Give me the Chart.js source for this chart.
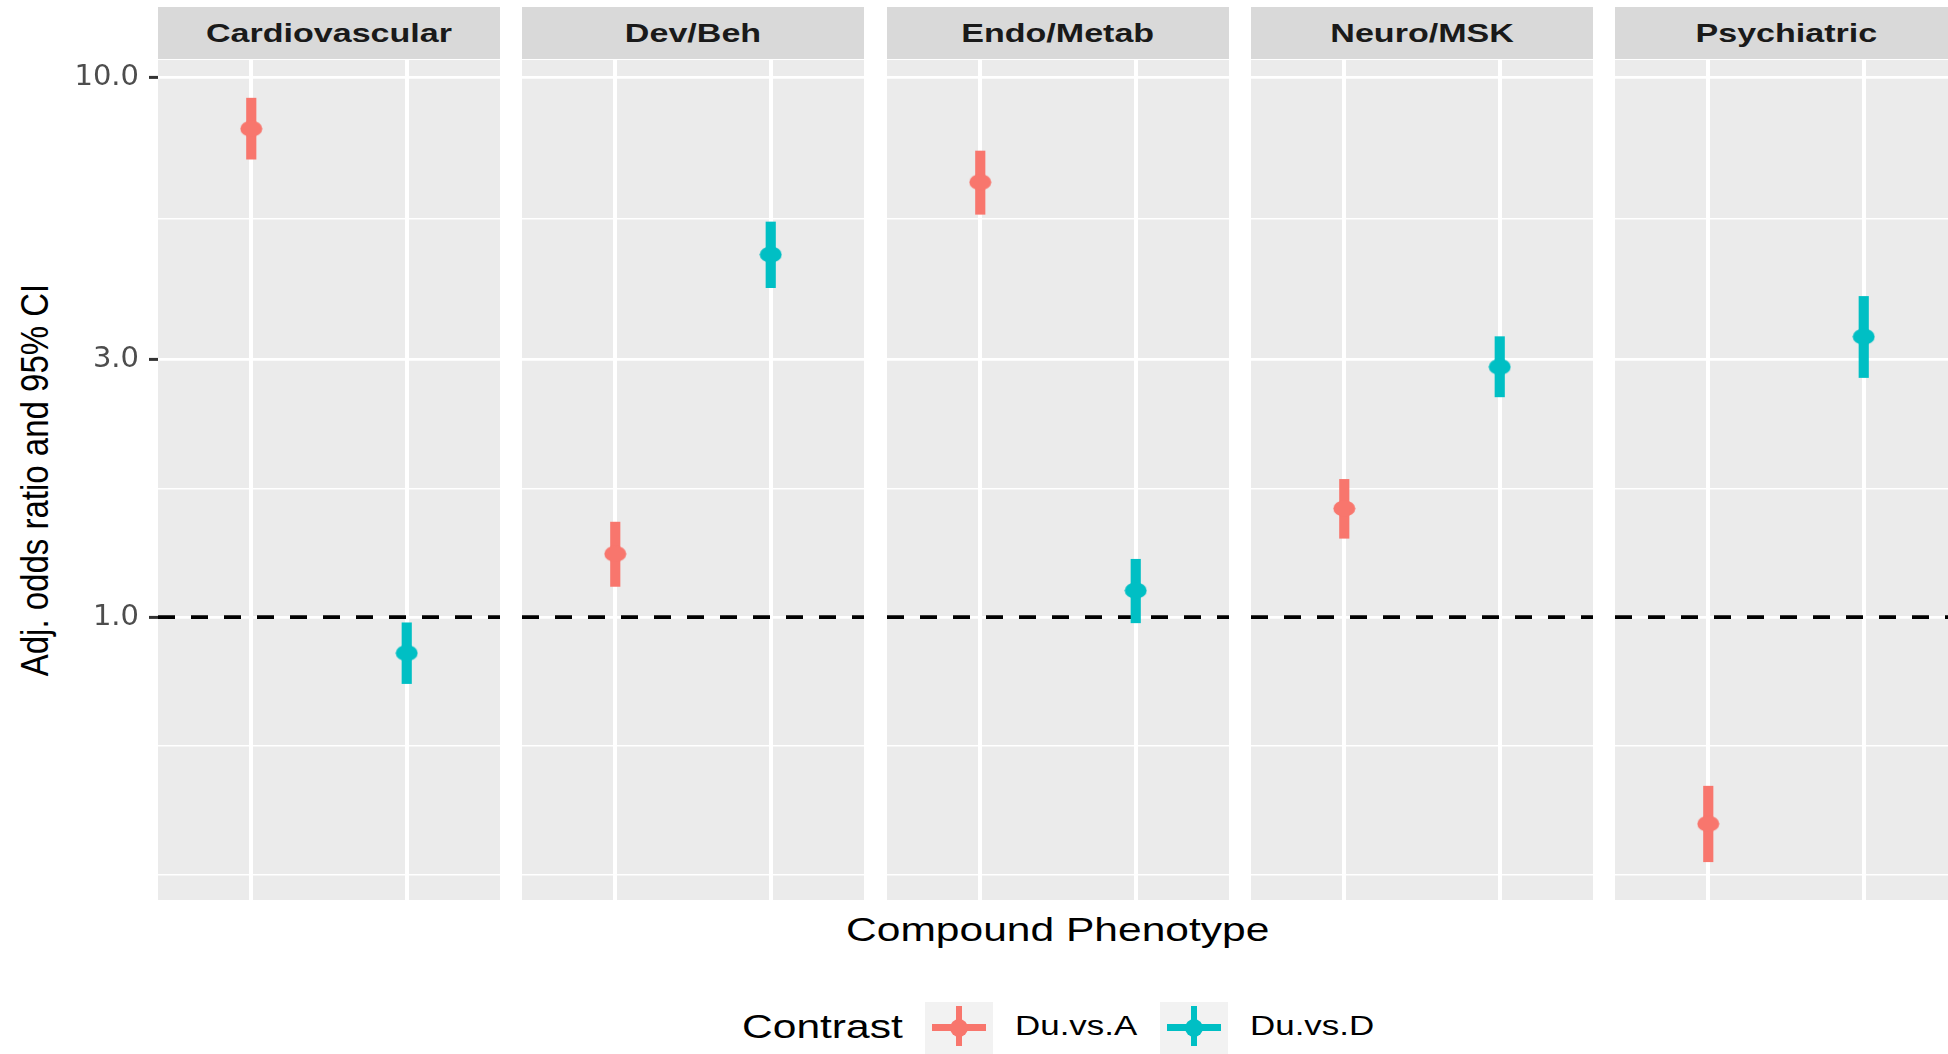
<!DOCTYPE html>
<html>
<head>
<meta charset="utf-8">
<title>Adjusted odds ratios by compound phenotype</title>
<script src="https://cdn.jsdelivr.net/npm/chart.js@4.4.0/dist/chart.umd.min.js"></script>
<style>
  html, body { margin: 0; padding: 0; background: #ffffff; width: 1948px; height: 1054px; overflow: hidden; }
  body { position: relative; font-family: "Liberation Sans", Arial, sans-serif; }
  .panel { position: absolute; top: 60px; height: 840px; }
  .strip { position: absolute; top: 7px; height: 52px; line-height: 52px; background: #D9D9D9;
           text-align: center; font-weight: bold; font-size: 26px; color: #1A1A1A; white-space: nowrap; overflow: hidden; }
  .strip span { display: inline-block; transform: scaleX(1.31); }
  .ytitle { position: absolute; left: -265px; top: 460px; width: 600px; height: 40px; line-height: 40px;
            text-align: center; font-size: 33px; color: #000; white-space: nowrap;
            transform: rotate(-90deg) scaleY(1.2); }
  .xtitle { position: absolute; left: 658px; top: 905px; width: 800px; height: 50px; line-height: 50px;
            text-align: center; font-size: 33.5px; color: #000; white-space: nowrap; }
  .xtitle span { display: inline-block; transform: scaleX(1.27); }
  .lgtext { position: absolute; height: 50px; line-height: 50px; white-space: nowrap; color: #000;
            transform-origin: left center; transform: scaleX(1.27); }
  .key { position: absolute; top: 1002px; width: 68px; height: 52px; background: #F2F2F2; }
  .key .h { position: absolute; left: 7px; top: 22px; width: 54px; height: 7px; }
  .key .v { position: absolute; left: 31px; top: 4px; width: 6px; height: 40px; }
  .key .d { position: absolute; left: 25px; top: 17px; width: 18px; height: 18px; border-radius: 50%; }
</style>
</head>
<body>
<div class="ytitle">Adj. odds ratio and 95% CI</div>
<div class="xtitle"><span>Compound Phenotype</span></div>

<script>
// facets and contrasts
var phenotypes = ["Cardiovascular", "Dev/Beh", "Endo/Metab", "Neuro/MSK", "Psychiatric"];
var contrasts = ["Du.vs.A", "Du.vs.D"];
var contrastColors = ["#F8766D", "#00BFC4"];

// adjusted odds ratio and 95% CI per phenotype, Du.vs.A
var orA   = [8.04, 1.31, 6.40, 1.59, 0.414];
var lowA  = [7.06, 1.14, 5.58, 1.40, 0.352];
var highA = [9.16, 1.50, 7.31, 1.80, 0.486];

// same for Du.vs.D
var orD   = [0.858, 4.70, 1.12, 2.91, 3.31];
var lowD  = [0.753, 4.08, 0.976, 2.56, 2.78];
var highD = [0.976, 5.40, 1.28, 3.31, 3.93];

// log y axis breaks
var majorBreaks = [1, 3, 10];
var minorBreaks = [0.333, 0.577, 1.73, 5.48];
var yMin = 0.299;
var yMax = 10.78;
var refLine = 1;

var allBreaks = majorBreaks.concat(minorBreaks).sort(function(a, b) { return a - b; });

//panel layout (pixels)
var panelLeft = [158, 522, 887, 1251, 1615];
var panelWidth = 342;
var yAxisWidth = 158;

function isMajor(ctx) {
	return ctx.tick && majorBreaks.indexOf(ctx.tick.value) >= 0;
}

//ellipse used as the point marker
function makeDot(color) {
	var c = document.createElement("canvas");
	c.width = 23;
	c.height = 17;
	var g = c.getContext("2d");
	g.fillStyle = color;
	g.beginPath();
	g.ellipse(11.5, 8.5, 11, 8, 0, 0, Math.PI * 2);
	g.fill();
	return c;
}

var panelBackground = {
	id: "panelBackground",
	beforeDraw: function(chart) {
		var a = chart.chartArea;
		var ctx = chart.ctx;
		ctx.save();
		ctx.fillStyle = "#EBEBEB";
		ctx.fillRect(a.left, a.top, a.right - a.left, a.bottom - a.top);
		ctx.restore();
	}
};

function makePanel(i) {
	var first = (i === 0);

	//strip label on top of the panel
	var strip = document.createElement("div");
	strip.className = "strip";
	strip.style.left = panelLeft[i] + "px";
	strip.style.width = panelWidth + "px";
	strip.innerHTML = "<span></span>";
	strip.firstChild.textContent = phenotypes[i];
	document.body.appendChild(strip);

	var box = document.createElement("div");
	box.className = "panel";
	var left = first ? 0 : panelLeft[i];
	var width = first ? panelLeft[0] + panelWidth : panelWidth;
	box.style.left = left + "px";
	box.style.width = width + "px";
	var canvas = document.createElement("canvas");
	box.appendChild(canvas);
	document.body.appendChild(box);

	var series = [
		{ label: contrasts[0], x: 1, or: orA[i], low: lowA[i], high: highA[i], color: contrastColors[0] },
		{ label: contrasts[1], x: 2, or: orD[i], low: lowD[i], high: highD[i], color: contrastColors[1] }
	];

	var datasets = [];
	series.forEach(function(s) {
		datasets.push({
			type: "bar",
			label: s.label + " CI",
			data: [{ x: s.x, y: [s.low, s.high] }],
			backgroundColor: s.color,
			borderWidth: 0,
			grouped: false,
			barThickness: 9.5,
			maxBarThickness: 9.5,
			order: 2
		});
		datasets.push({
			type: "scatter",
			label: s.label,
			data: [{ x: s.x, y: s.or }],
			pointStyle: makeDot(s.color),
			pointRadius: 8,
			pointHoverRadius: 8,
			order: 1
		});
	});
	//dashed reference line at OR = 1
	datasets.push({
		type: "line",
		label: "ref",
		data: [{ x: 0.4, y: refLine }, { x: 2.6, y: refLine }],
		borderColor: "#000000",
		borderWidth: 3.8,
		borderDash: [17, 16],
		pointRadius: 0,
		fill: false,
		order: 3
	});

	new Chart(canvas, {
		type: "bar",
		data: { datasets: datasets },
		plugins: [panelBackground],
		options: {
			responsive: true,
			maintainAspectRatio: false,
			animation: false,
			layout: { padding: 0, autoPadding: false },
			plugins: {
				legend: { display: false },
				tooltip: { enabled: false }
			},
			scales: {
				x: {
					type: "linear",
					min: 0.4,
					max: 2.6,
					offset: false,
					afterBuildTicks: function(axis) {
						axis.ticks = [{ value: 1 }, { value: 2 }];
					},
					ticks: { display: false },
					grid: { color: "#FFFFFF", lineWidth: 4, drawTicks: false, offset: false },
					border: { display: false },
					afterFit: function(scale) {
						scale.height = 0;
						scale.paddingLeft = 0;
						scale.paddingRight = 0;
					}
				},
				y: {
					type: "logarithmic",
					min: yMin,
					max: yMax,
					afterBuildTicks: function(axis) {
						axis.ticks = allBreaks.map(function(v) { return { value: v }; });
					},
					ticks: {
						display: first,
						autoSkip: false,
						padding: 10,
						color: "#4D4D4D",
						font: { family: "DejaVu Sans", size: 29 },
						callback: function(value) {
							return majorBreaks.indexOf(value) >= 0 ? value.toFixed(1) : "";
						}
					},
					grid: {
						color: "#FFFFFF",
						lineWidth: function(ctx) { return isMajor(ctx) ? 2.8 : 1.6; },
						drawTicks: first,
						tickLength: 9,
						tickWidth: 3,
						tickColor: function(ctx) { return isMajor(ctx) ? "#333333" : "rgba(0,0,0,0)"; }
					},
					border: { display: false },
					afterFit: function(scale) {
						scale.width = first ? yAxisWidth : 0;
						scale.paddingTop = 0;
						scale.paddingBottom = 0;
					}
				}
			}
		}
	});
}

for (var p = 0; p < phenotypes.length; p++) {
	makePanel(p);
}

//legend below the plot
function addText(text, left, capCenter, size) {
	var d = document.createElement("div");
	d.className = "lgtext";
	d.style.left = left + "px";
	d.style.top = (capCenter - 25) + "px";
	d.style.fontSize = size + "px";
	d.textContent = text;
	document.body.appendChild(d);
}

addText("Contrast", 742, 1027, 33.5);
var keyLeft = [925, 1160];
var textLeft = [1015, 1250];
contrasts.forEach(function(name, k) {
	var key = document.createElement("div");
	key.className = "key";
	key.style.left = keyLeft[k] + "px";
	["h", "v", "d"].forEach(function(part) {
		var el = document.createElement("div");
		el.className = part;
		el.style.background = contrastColors[k];
		key.appendChild(el);
	});
	document.body.appendChild(key);
	addText(name, textLeft[k], 1026, 27.5);
});
</script>
</body>
</html>
